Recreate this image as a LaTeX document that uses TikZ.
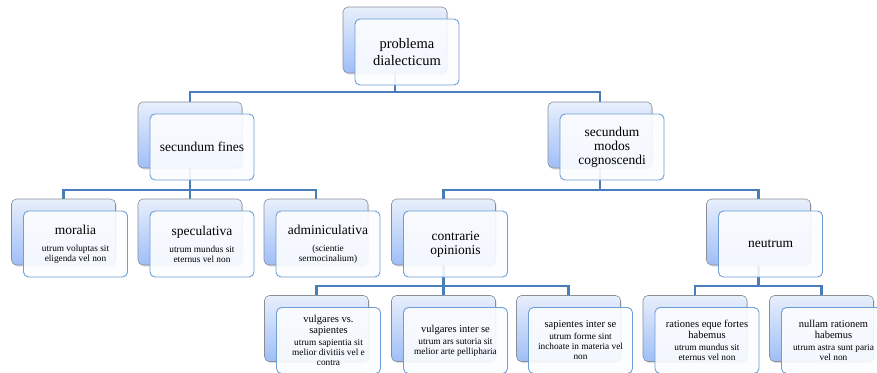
\documentclass[tikz,border=0pt]{standalone}
\usepackage{fontspec}
\setmainfont{Liberation Serif}
\usetikzlibrary{shadows}
\pgfdeclarelayer{bg}
\pgfsetlayers{bg,main}
\definecolor{conncol}{HTML}{4A7EBB}
\definecolor{backtop}{HTML}{E8EFFC}
\definecolor{backbot}{HTML}{9FBEF7}
\definecolor{backline}{HTML}{8A8E96}
\definecolor{frontline}{HTML}{6E9ED6}
\definecolor{frontfill}{HTML}{FCFDFF}
\tikzset{
 backbox/.style={rectangle, rounded corners=5pt, minimum width=104pt, minimum height=66pt, draw=backline, line width=0.6pt, top color=backtop, bottom color=backbot, drop shadow={opacity=0.25, shadow xshift=1pt, shadow yshift=-1.5pt}},
 frontbox/.style={rectangle, rounded corners=5pt, minimum width=104pt, minimum height=66pt, draw=frontline, line width=0.9pt, fill=frontfill, fill opacity=0.9, text opacity=1, align=center, inner sep=1pt},
 conn/.style={draw=conncol, line width=2.2pt},
 bigtxt/.style={font=\fontsize{13.5}{14}\selectfont},
 midtxt/.style={font=\fontsize{10.5}{11}\selectfont},
}
\newcommand\smalltxt[1]{{\fontsize{9.3}{10}\selectfont #1}}
\begin{document}
\begin{tikzpicture}[x=1pt,y=-1pt]
\useasboundingbox (0,0) rectangle (877,372);
% top
\node[backbox] (topB) at (395,40) {};
\node[frontbox, font=\fontsize{14.5}{16.5}\selectfont] (top) at (407,52) {problema\\dialecticum};
% level 1
\node[backbox] (finesB) at (190,135) {};
\node[frontbox, bigtxt] (fines) at (202,147) {secundum fines};
\node[backbox] (modosB) at (600,135) {};
\node[frontbox, bigtxt] (modos) at (612,147) {secundum\\modos\\cognoscendi};
% level 2
\node[backbox] (moraliaB) at (63.5,232) {};
\node[frontbox, bigtxt] (moralia) at (75.5,244) {moralia\\[3pt]\smalltxt{utrum voluptas sit}\\[-4pt]\smalltxt{eligenda vel non}};
\node[backbox] (specB) at (190,232) {};
\node[frontbox, bigtxt] (spec) at (202,244) {speculativa\\[3pt]\smalltxt{utrum mundus sit}\\[-4pt]\smalltxt{eternus vel non}};
\node[backbox] (adminB) at (316,232) {};
\node[frontbox, bigtxt] (admin) at (328,244) {adminiculativa\\[3pt]\smalltxt{(scientie}\\[-4pt]\smalltxt{sermocinalium)}};
\node[backbox] (contrB) at (443.5,232) {};
\node[frontbox, bigtxt] (contr) at (455.5,244) {contrarie\\opinionis};
\node[backbox] (neutrB) at (758.5,232) {};
\node[frontbox, bigtxt] (neutr) at (770.5,244) {neutrum};
% level 3
\node[backbox] (vvsB) at (316.5,328.5) {};
\node[frontbox, midtxt] (vvs) at (328.5,340.5) {vulgares vs.\\sapientes\\[1pt]\smalltxt{utrum sapientia sit}\\[-1pt]\smalltxt{melior divitiis vel e}\\[-1pt]\smalltxt{contra}};
\node[backbox] (vintB) at (443.5,328.5) {};
\node[frontbox, midtxt] (vint) at (455.5,340.5) {vulgares inter se\\[1pt]\smalltxt{utrum ars sutoria sit}\\[-1pt]\smalltxt{melior arte pellipharia}};
\node[backbox] (sintB) at (568.5,328.5) {};
\node[frontbox, midtxt] (sint) at (580.5,340.5) {sapientes inter se\\[1pt]\smalltxt{utrum forme sint}\\[-1pt]\smalltxt{inchoate in materia vel}\\[-1pt]\smalltxt{non}};
\node[backbox] (ratB) at (695,328.5) {};
\node[frontbox, midtxt] (rat) at (707,340.5) {rationes eque fortes\\habemus\\[1pt]\smalltxt{utrum mundus sit}\\[-1pt]\smalltxt{eternus vel non}};
\node[backbox] (nulB) at (821.5,328.5) {};
\node[frontbox, midtxt] (nul) at (833.5,340.5) {nullam rationem\\habemus\\[1pt]\smalltxt{utrum astra sunt paria}\\[-1pt]\smalltxt{vel non}};
% connectors
\begin{pgfonlayer}{bg}
\coordinate (bus0) at (0,92);
\coordinate (bus1) at (0,190);
\coordinate (bus2) at (0,286);
\draw[conn] (topB.center) -- (topB.center |- bus0) -| (finesB.center);
\draw[conn] (topB.center |- bus0) -| (modosB.center);
\draw[conn] (finesB.center) -- (finesB.center |- bus1) -| (moraliaB.center);
\draw[conn] (finesB.center |- bus1) -| (adminB.center);
\draw[conn] (finesB.center) -- (specB.center);
\draw[conn] (modosB.center) -- (modosB.center |- bus1) -| (contrB.center);
\draw[conn] (modosB.center |- bus1) -| (neutrB.center);
\draw[conn] (contrB.center) -- (contrB.center |- bus2) -| (vvsB.center);
\draw[conn] (contrB.center |- bus2) -| (sintB.center);
\draw[conn] (contrB.center) -- (vintB.center);
\draw[conn] (neutrB.center) -- (neutrB.center |- bus2) -| (ratB.center);
\draw[conn] (neutrB.center |- bus2) -| (nulB.center);
\end{pgfonlayer}
\end{tikzpicture}
\end{document}
